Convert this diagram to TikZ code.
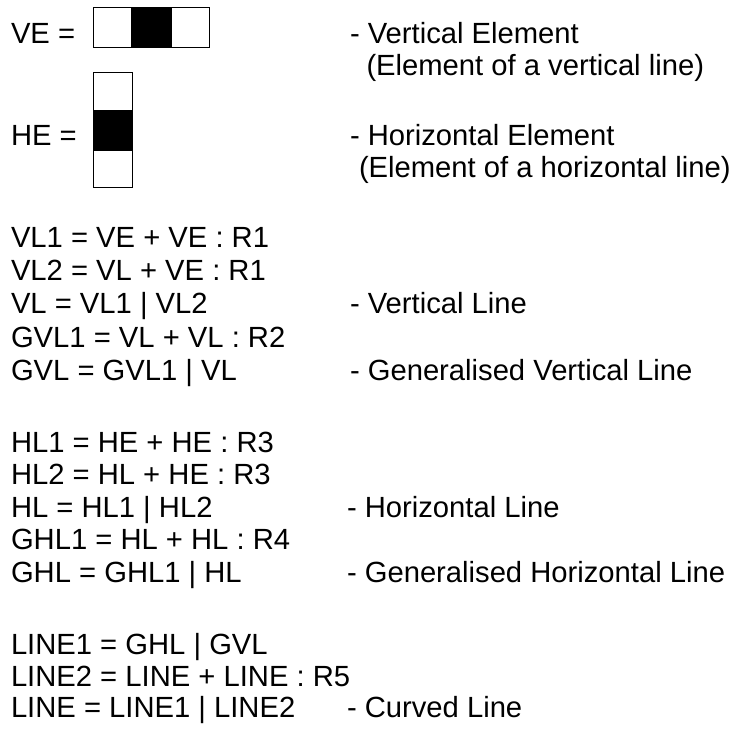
\documentclass[tikz,border=0pt]{standalone}
\usepackage{fontspec}
\setmainfont{Liberation Sans}
\begin{document}
\begin{tikzpicture}[x=1pt,y=-1pt,
  txt/.style={anchor=base west,inner sep=0pt,outer sep=0pt,
              font=\fontsize{29.2}{33}\selectfont},
  cellbox/.style={draw=black,line width=1.2pt}]
\useasboundingbox (0,0) rectangle (733,728);

% element pictograms
\fill[black] (131.7,7.7) rectangle (171,47.3);
\draw[cellbox] (93.3,7.7) rectangle (209.3,47.3);
\draw[cellbox] (131.7,7.7) -- (131.7,47.3) (171,7.7) -- (171,47.3);

\fill[black] (93.3,110.7) rectangle (132.7,150);
\draw[cellbox] (93.3,72.7) rectangle (132.7,187.7);
\draw[cellbox] (93.3,110.7) -- (132.7,110.7) (93.3,150) -- (132.7,150);

% left column: definitions
\node[txt] (ve)  at (11,43.3)  {VE =};
\node[txt] (he)  at (11,145.7) {HE =};

\node[txt] (vl1)  at (11,247.5) {VL1 = VE + VE : R1};
\node[txt] (vl2)  at (11,280)   {VL2 = VL + VE : R1};
\node[txt] (vl)   at (11,313.5) {VL = VL1 | VL2};
\node[txt] (gvl1) at (11,347)   {GVL1 = VL + VL : R2};
\node[txt] (gvl)  at (11,380)   {GVL = GVL1 | VL};

\node[txt] (hl1)  at (11,452)   {HL1 = HE + HE : R3};
\node[txt] (hl2)  at (11,484.5) {HL2 = HL + HE : R3};
\node[txt] (hl)   at (11,517)   {HL = HL1 | HL2};
\node[txt] (ghl1) at (11,549.5) {GHL1 = HL + HL : R4};
\node[txt] (ghl)  at (11,582)   {GHL = GHL1 | HL};

\node[txt] (line1) at (11,654.5) {LINE1 = GHL | GVL};
\node[txt] (line2) at (11,686)   {LINE2 = LINE + LINE : R5};
\node[txt] (line)  at (11,717)   {LINE = LINE1 | LINE2};

% right column: descriptions
\node[txt] (dve)  at (350,43.3) {- Vertical Element};
\node[txt] (dve2) at (366.5,75) {(Element of a vertical line)};
\node[txt] (dhe)  at (350,145)  {- Horizontal Element};
\node[txt] (dhe2) at (359,177)  {(Element of a horizontal line)};

\node[txt] (dvl)  at (350,313.5) {- Vertical Line};
\node[txt] (dgvl) at (350,380)   {- Generalised Vertical Line};
\node[txt] (dhl)  at (347,517)   {- Horizontal Line};
\node[txt] (dghl) at (347,582)   {- Generalised Horizontal Line};
\node[txt] (dline) at (347,717)  {- Curved Line};
\end{tikzpicture}
\end{document}
